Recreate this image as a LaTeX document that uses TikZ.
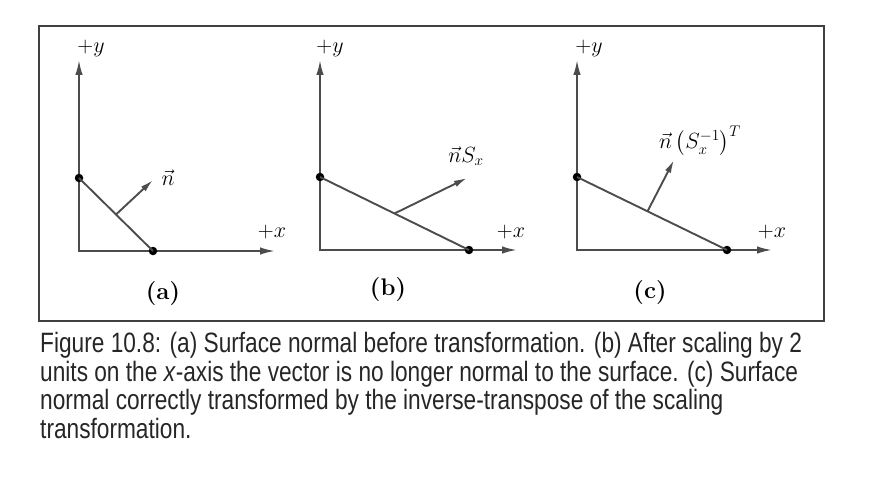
\RequirePackage{fix-cm}
\documentclass[tikz,border=0pt]{standalone}
\usepackage{amsmath}
\usepackage{fontspec}
\newfontfamily\capfont[FakeStretch=0.81]{Liberation Sans}
\usetikzlibrary{positioning, calc, arrows.meta}

\tikzset{
  axis/.style={draw=black!70, line width=1.9pt, {Latex[length=15pt,width=7.5pt]}-{Latex[length=15pt,width=7.5pt]}},
  surface/.style={draw=black!70, line width=1.9pt},
  normalvec/.style={draw=black!70, line width=1.9pt, -{Latex[length=13pt,width=6.5pt]}},
  dotpt/.style={circle, fill=black, inner sep=0pt, minimum size=8.5pt},
  axlabel/.style={font=\fontsize{22}{24}\selectfont, inner sep=0pt},
  sublabel/.style={font=\fontsize{24}{26}\selectfont\bfseries, inner sep=0pt}
}

\begin{document}
\begin{tikzpicture}[x=1pt, y=-1pt]
  \useasboundingbox (0,0) rectangle (874,476);

  % 枠
  \draw[black!75, line width=1.5pt] (39,26) rectangle (824,321);

  % (a) 変換前
  \coordinate (Oa) at (79,251);
  \coordinate (Ya) at (79,60);
  \coordinate (Xa) at (275,251);
  \draw[axis] (Ya) -- (Oa) -- (Xa);
  \node[dotpt] (Pa) at (79,178) {};
  \node[dotpt] (Qa) at (153,251) {};
  \draw[surface] (Pa.center) -- (Qa.center);
  \coordinate (Ma) at ($(Pa.center)!0.5!(Qa.center)$);
  \coordinate (Na) at (153,180);
  \draw[normalvec] (Ma) -- (Na);
  \node[axlabel] (na) at (168,178) {$\vec{n}$};
  \node[axlabel] (ya) at (91,48) {$+y$};
  \node[axlabel] (xa) at (272,232) {$+x$};
  \node[sublabel] (capa) at (163,294) {(a)};

  % (b) x方向に2倍
  \coordinate (Ob) at (320,250);
  \coordinate (Yb) at (320,60);
  \coordinate (Xb) at (517,250);
  \draw[axis] (Yb) -- (Ob) -- (Xb);
  \node[dotpt] (Pb) at (320,177) {};
  \node[dotpt] (Qb) at (469,250) {};
  \draw[surface] (Pb.center) -- (Qb.center);
  \coordinate (Mb) at ($(Pb.center)!0.5!(Qb.center)$);
  \coordinate (Nb) at (467,178);
  \draw[normalvec] (Mb) -- (Nb);
  \node[axlabel] (nb) at (466,156) {$\vec{n}S_x$};
  \node[axlabel] (yb) at (330,48) {$+y$};
  \node[axlabel] (xb) at (511,232) {$+x$};
  \node[sublabel] (capb) at (388,290) {(b)};

  % (c) 逆転置で変換
  \coordinate (Oc) at (577,250);
  \coordinate (Yc) at (577,60);
  \coordinate (Xc) at (772,250);
  \draw[axis] (Yc) -- (Oc) -- (Xc);
  \node[dotpt] (Pc) at (577,177) {};
  \node[dotpt] (Qc) at (727,250) {};
  \draw[surface] (Pc.center) -- (Qc.center);
  \coordinate (Mc) at ($(Pc.center)!0.47!(Qc.center)$);
  \coordinate (Nc) at (674,160);
  \draw[normalvec] (Mc) -- (Nc);
  \node[axlabel] (nc) at (700,141) {$\vec{n}\left(S_x^{-1}\right)^{T}$};
  \node[axlabel] (yc) at (589,48) {$+y$};
  \node[axlabel] (xc) at (772,232) {$+x$};
  \node[sublabel] (capc) at (650,293) {(c)};

  % キャプション
  \node[anchor=base west, align=left, inner sep=0pt, text=black!85,
        font=\capfont\fontsize{28}{28.4}\selectfont] (caption) at (40,438)
    {Figure 10.8: (a) Surface normal before transformation. (b) After scaling by 2\\
     units on the \textit{x}-axis the vector is no longer normal to the surface. (c) Surface\\
     normal correctly transformed by the inverse-transpose of the scaling\\
     transformation.};
\end{tikzpicture}
\end{document}
